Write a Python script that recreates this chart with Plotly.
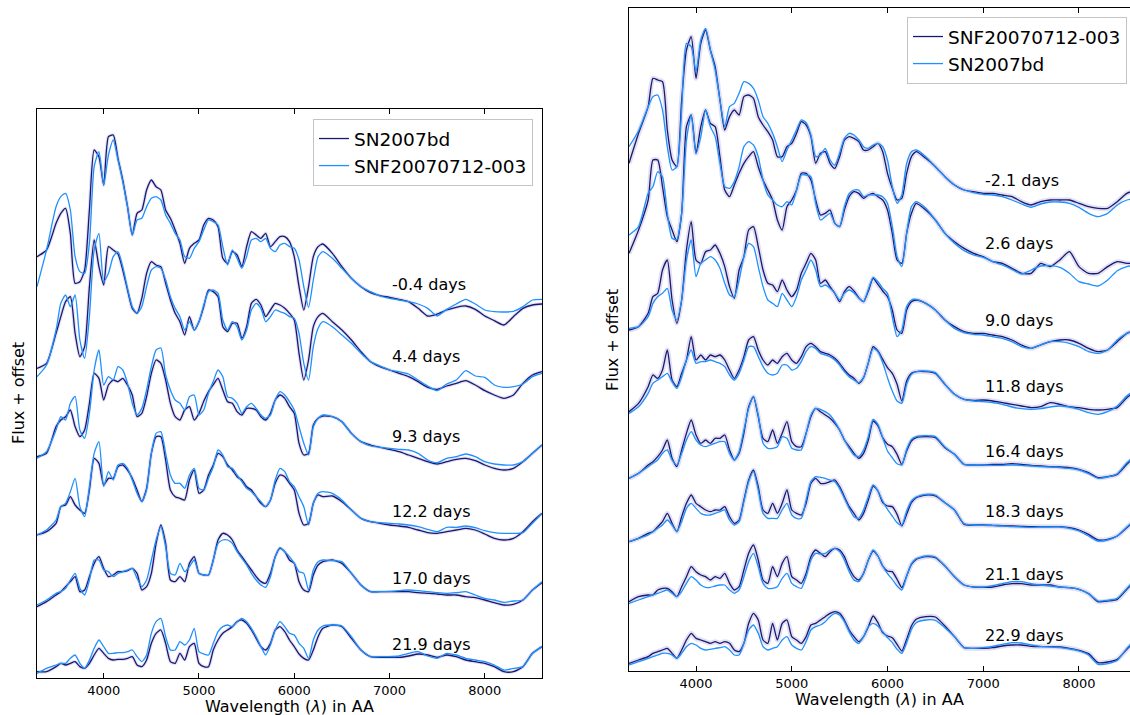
import plotly.graph_objects as go

# Wavelength sampling (Angstrom) shared by every spectrum
WAVE = [3300, 3400,
        3500, 3550, 3600, 3650, 3700, 3750, 3800, 3850, 3900, 3950,
        4000, 4050, 4100, 4150, 4200, 4250, 4300, 4350, 4400, 4450,
        4500, 4550, 4600, 4650, 4700, 4750, 4800, 4850, 4900, 4950,
        5000, 5050, 5100, 5150, 5200, 5250, 5300, 5350, 5400, 5450,
        5500, 5550, 5600, 5650, 5700, 5750, 5800, 5850, 5900, 5950,
        6000, 6050, 6100, 6150, 6200, 6250, 6300,
        6400, 6500, 6600, 6700, 6800, 6900, 7000, 7100, 7200, 7300,
        7400, 7500, 7600, 7700, 7800, 7900, 8000, 8100, 8200, 8300,
        8400, 8500, 8600]

# ---------------- left panel: SN2007bd vs SNF20070712-003 (flux + offset) ----------------
LEFT_DAYS = ["-0.4 days", "4.4 days", "9.3 days", "12.2 days", "17.0 days", "21.9 days"]

L_BD_M04 = [1264, 1284, 1364, 1394, 1409, 1334, 1184, 1189, 1224, 1404, 1584, 1564, 1479, 1624, 1629, 1559, 1494, 1414, 1329, 1394,
            1404, 1464, 1494, 1474, 1464, 1404, 1379, 1344, 1304, 1244, 1289, 1304,
            1314, 1359, 1379, 1374, 1354, 1259, 1244, 1279, 1269, 1234, 1294, 1339, 1329, 1319, 1334, 1294, 1309, 1324, 1324, 1309,
            1264, 1174, 1104, 1174, 1264, 1294, 1302,
            1274, 1234, 1199, 1174, 1156, 1147, 1142, 1136, 1129, 1109, 1086, 1092, 1104, 1112, 1116, 1106, 1086, 1072, 1059, 1084,
            1109, 1119, 1122]
L_SNF_M04 = [1174, 1284, 1414, 1444, 1454, 1404, 1264, 1219, 1214, 1304, 1534, 1579, 1479, 1569, 1614, 1554, 1489, 1414, 1329, 1374,
             1379, 1414, 1439, 1444, 1434, 1389, 1364, 1334, 1314, 1264, 1259, 1289,
             1309, 1344, 1374, 1369, 1359, 1294, 1239, 1284, 1259, 1229, 1264, 1314, 1319, 1309, 1319, 1289, 1279, 1299, 1304, 1294,
             1289, 1254, 1174, 1112, 1194, 1264, 1279,
             1259, 1229, 1199, 1174, 1159, 1146, 1139, 1134, 1129, 1122, 1109, 1086, 1106, 1122, 1136, 1122, 1104, 1099, 1098, 1100,
             1114, 1134, 1136]

L_BD_P44 = [929, 944, 1034, 1084, 1129, 1144, 1034, 964, 994, 1174, 1314, 1234, 1179, 1294, 1284, 1272, 1224, 1164, 1109, 1094,
            1139, 1214, 1249, 1239, 1234, 1184, 1134, 1094, 1069, 1029, 1084, 1044,
            1069, 1114, 1164, 1159, 1144, 1054, 1039, 1064, 1064, 1019, 1054, 1124, 1136, 1119, 1084, 1104, 1124, 1119, 1109, 1094,
            1074, 974, 894, 954, 1054, 1084, 1094,
            1069, 1044, 1014, 979, 949, 934, 924, 914, 904, 889, 872, 866, 876, 884, 892, 879, 862, 849, 839, 849,
            884, 909, 919]
L_SNF_P44 = [904, 939, 1044, 1124, 1149, 1114, 1149, 1014, 959, 1084, 1284, 1334, 1189, 1214, 1264, 1279, 1234, 1169, 1114, 1094,
             1114, 1174, 1224, 1234, 1229, 1194, 1144, 1109, 1084, 1044, 1069, 1044,
             1069, 1119, 1159, 1164, 1154, 1074, 1044, 1069, 1054, 1014, 1044, 1104, 1124, 1109, 1069, 1084, 1104, 1099, 1094, 1084,
             1079, 1034, 944, 894, 994, 1049, 1069,
             1054, 1029, 1004, 974, 949, 936, 924, 919, 912, 894, 876, 862, 882, 894, 922, 906, 902, 879, 872, 874,
             882, 904, 914]

L_BD_P93 = [664, 674, 754, 774, 784, 804, 754, 724, 744, 824, 914, 899, 834, 879, 894, 889, 899, 879, 849, 784,
            794, 844, 914, 954, 944, 894, 824, 784, 774, 804, 814, 774,
            794, 830, 859, 880, 899, 864, 829, 824, 799, 789, 809, 809, 804, 784, 774, 794, 834, 849, 839, 814,
            794, 704, 669, 674, 759, 779, 786,
            784, 769, 734, 709, 699, 692, 686, 679, 669, 659, 649, 642, 649, 656, 659, 652, 639, 629, 624, 629,
            649, 674, 699]
L_SNF_P93 = [659, 679, 744, 784, 774, 824, 845, 744, 719, 794, 924, 984, 879, 904, 894, 934, 924, 884, 824, 789,
             809, 864, 934, 984, 990, 909, 864, 834, 824, 804, 844, 849,
             789, 804, 854, 890, 924, 904, 844, 839, 824, 794, 814, 824, 809, 789, 779, 789, 834, 859, 849, 829,
             804, 754, 704, 669, 754, 779, 789,
             784, 769, 734, 709, 696, 692, 689, 686, 684, 674, 654, 646, 659, 664, 672, 664, 649, 642, 639, 639,
             649, 674, 699]

L_BD_P122 = [429, 439, 464, 514, 519, 544, 519, 504, 494, 564, 659, 644, 579, 599, 599, 634, 639, 624, 599, 564,
             529, 569, 674, 724, 724, 654, 564, 544, 539, 534, 594, 624,
             554, 564, 609, 639, 674, 664, 639, 624, 604, 594, 574, 564, 544, 524, 514, 534, 584, 609, 604, 584,
             564, 494, 459, 464, 524, 549, 544,
             546, 529, 504, 479, 469, 464, 459, 456, 452, 444, 436, 434, 439, 444, 449, 444, 432, 419, 414, 419,
             439, 469, 494]
L_SNF_P122 = [429, 444, 474, 514, 524, 559, 599, 514, 484, 574, 674, 709, 574, 619, 594, 639, 644, 629, 594, 554,
              529, 564, 674, 734, 739, 674, 609, 584, 584, 569, 609, 629,
              569, 564, 599, 634, 684, 669, 634, 629, 609, 589, 569, 559, 544, 529, 514, 534, 594, 629, 619, 589,
              574, 544, 514, 459, 524, 554, 559,
              554, 534, 504, 479, 469, 466, 464, 462, 459, 454, 446, 439, 452, 452, 456, 451, 442, 436, 434, 434,
              436, 464, 494]

L_BD_P170 = [214, 229, 249, 259, 274, 289, 304, 259, 264, 304, 344, 364, 329, 304, 309, 319, 319, 322, 329, 314,
             264, 274, 314, 404, 459, 404, 294, 289, 304, 289, 344, 364,
             314, 309, 309, 354, 414, 434, 429, 414, 384, 364, 344, 324, 304, 289, 284, 314, 364, 389, 379, 354,
             344, 289, 264, 259, 309, 339, 349,
             354, 344, 314, 279, 259, 259, 259, 259, 259, 256, 254, 252, 249, 249, 244, 241, 234, 226, 219, 221,
             234, 264, 286]
L_SNF_P170 = [219, 234, 254, 259, 269, 294, 314, 269, 249, 294, 354, 354, 324, 319, 304, 314, 319, 324, 329, 299,
              274, 294, 354, 414, 454, 394, 314, 309, 344, 319, 334, 354,
              314, 309, 309, 354, 404, 414, 414, 404, 379, 359, 339, 314, 294, 279, 272, 304, 364, 391, 379, 364,
              344, 319, 314, 264, 324, 349, 354,
              352, 349, 314, 279, 259, 259, 260, 262, 264, 262, 259, 256, 254, 256, 259, 249, 239, 234, 227, 231,
              234, 264, 289]

L_BD_P219 = [19, 19, 34, 44, 39, 44, 49, 34, 29, 44, 69, 89, 74, 59, 54, 56, 56, 59, 64, 39,
             34, 54, 104, 134, 144, 104, 49, 44, 74, 54, 94, 104,
             44, 34, 34, 84, 114, 134, 144, 154, 169, 174, 164, 144, 119, 94, 84, 104, 144, 154, 139, 114,
             94, 72, 59, 54, 84, 124, 149,
             159, 154, 119, 84, 64, 62, 62, 62, 66, 72, 69, 62, 69, 64, 54, 49, 44, 34, 19, 19,
             34, 74, 94]
L_SNF_P219 = [14, 29, 39, 44, 44, 59, 69, 44, 29, 54, 89, 114, 94, 74, 74, 76, 76, 79, 84, 64,
              49, 69, 134, 169, 179, 124, 84, 84, 109, 99, 114, 149,
              79, 72, 69, 104, 139, 154, 159, 154, 169, 179, 169, 149, 124, 94, 69, 99, 144, 169, 154, 134,
              129, 104, 89, 59, 114, 144, 156,
              159, 156, 124, 84, 64, 64, 64, 66, 74, 79, 66, 59, 74, 69, 59, 54, 49, 39, 24, 29,
              34, 74, 94]

# ---------------- right panel: SNF20070712-003 vs SN2007bd (flux + offset) ----------------
RIGHT_DAYS = ["-2.1 days", "2.6 days", "9.0 days", "11.8 days", "16.4 days", "18.3 days", "21.1 days", "22.9 days"]

R_SNF_M21 = [1523, 1613, 1693, 1778, 1773, 1768, 1623, 1533, 1513, 1713, 1863, 1903, 1778, 1883, 1923, 1863, 1813, 1713, 1623, 1663,
             1683, 1668, 1723, 1728, 1718, 1663, 1638, 1618, 1593, 1543, 1543, 1573,
             1583, 1613, 1648, 1638, 1603, 1523, 1553, 1558, 1523, 1508, 1543, 1593, 1603, 1598, 1588, 1563, 1563, 1573, 1583, 1558,
             1493, 1448, 1413, 1418, 1493, 1543, 1558,
             1538, 1513, 1483, 1458, 1443, 1438, 1433, 1433, 1428, 1423, 1408, 1398, 1408, 1413, 1413, 1413, 1403, 1393, 1388, 1388,
             1408, 1433, 1443]
R_BD_M21 = [1573, 1621, 1693, 1723, 1728, 1683, 1573, 1503, 1513, 1683, 1883, 1873, 1798, 1893, 1928, 1863, 1803, 1713, 1633, 1693,
            1703, 1733, 1768, 1763, 1748, 1713, 1663, 1643, 1613, 1573, 1528, 1563,
            1593, 1623, 1653, 1645, 1608, 1543, 1548, 1568, 1533, 1518, 1553, 1598, 1613, 1608, 1593, 1573, 1568, 1578, 1583, 1573,
            1533, 1453, 1403, 1428, 1523, 1558, 1563,
            1543, 1513, 1483, 1458, 1443, 1435, 1430, 1428, 1423, 1413, 1401, 1391, 1401, 1407, 1407, 1403, 1391, 1373, 1363, 1373,
            1398, 1413, 1418]

R_SNF_P26 = [1253, 1323, 1413, 1533, 1533, 1453, 1363, 1323, 1288, 1373, 1633, 1668, 1553, 1633, 1683, 1643, 1633, 1543, 1443, 1423,
             1458, 1493, 1523, 1543, 1558, 1513, 1473, 1443, 1413, 1353, 1323, 1393,
             1413, 1443, 1493, 1493, 1473, 1413, 1368, 1373, 1383, 1343, 1333, 1383, 1423, 1438, 1433, 1418, 1428, 1433, 1423, 1413,
             1383, 1313, 1233, 1223, 1313, 1373, 1403,
             1383, 1353, 1313, 1288, 1268, 1253, 1243, 1228, 1223, 1208, 1193, 1193, 1223, 1213, 1233, 1258, 1213, 1193, 1193, 1213,
             1228, 1223, 1223]
R_BD_P26 = [1308, 1333, 1433, 1453, 1498, 1483, 1373, 1298, 1295, 1373, 1593, 1668, 1553, 1603, 1683, 1633, 1603, 1523, 1453, 1448,
            1468, 1513, 1573, 1588, 1578, 1543, 1473, 1428, 1413, 1398, 1393, 1408,
            1398, 1443, 1488, 1488, 1483, 1403, 1353, 1363, 1373, 1343, 1333, 1393, 1433, 1443, 1443, 1423, 1428, 1428, 1428, 1423,
            1403, 1333, 1243, 1213, 1313, 1393, 1408,
            1388, 1353, 1313, 1283, 1261, 1248, 1241, 1228, 1218, 1205, 1191, 1203, 1215, 1216, 1211, 1193, 1168, 1161, 1155, 1173,
            1201, 1213, 1218]

R_SNF_P90 = [1023, 1033, 1073, 1123, 1133, 1203, 1233, 1113, 1043, 1113, 1263, 1348, 1233, 1223, 1258, 1263, 1278, 1253, 1213, 1153,
             1118, 1203, 1243, 1323, 1333, 1273, 1203, 1163, 1158, 1138, 1173, 1143,
             1123, 1143, 1193, 1223, 1253, 1233, 1163, 1173, 1153, 1133, 1108, 1138, 1153, 1140, 1120, 1108, 1140, 1178, 1160, 1140,
             1123, 1083, 1023, 1013, 1083, 1108, 1113,
             1103, 1083, 1053, 1033, 1018, 1013, 1013, 1008, 1003, 993, 978, 968, 978, 988, 993, 993, 983, 968, 958, 963,
             988, 1013, 1023]
R_BD_P90 = [1028, 1033, 1063, 1103, 1123, 1133, 1148, 1083, 1053, 1113, 1233, 1293, 1183, 1223, 1233, 1243, 1233, 1208, 1163, 1128,
            1123, 1173, 1243, 1283, 1273, 1213, 1153, 1113, 1103, 1093, 1133, 1113,
            1093, 1123, 1173, 1203, 1233, 1203, 1153, 1158, 1148, 1133, 1113, 1133, 1143, 1135, 1118, 1108, 1145, 1181, 1168, 1148,
            1133, 1063, 1003, 1023, 1093, 1113, 1115,
            1103, 1083, 1053, 1028, 1015, 1010, 1008, 1003, 998, 988, 973, 968, 978, 988, 988, 983, 973, 958, 953, 963,
            993, 1013, 1023]

R_SNF_P118 = [778, 803, 853, 888, 878, 903, 963, 873, 853, 893, 933, 1003, 933, 948, 933, 948, 943, 948, 933, 903,
              878, 903, 943, 993, 1003, 963, 933, 918, 933, 923, 943, 953,
              933, 923, 943, 973, 983, 973, 958, 953, 948, 938, 923, 903, 888, 878, 863, 880, 925, 973, 960, 935,
              910, 893, 860, 810, 870, 893, 898,
              898, 893, 860, 830, 815, 812, 813, 810, 805, 800, 795, 790, 793, 805, 800, 793, 790, 785, 783, 785,
              790, 820, 840]
R_BD_P118 = [773, 793, 833, 863, 873, 883, 893, 868, 848, 883, 933, 963, 923, 928, 928, 933, 928, 923, 913, 888,
             873, 893, 933, 973, 973, 943, 913, 893, 888, 893, 918, 918,
             903, 908, 928, 958, 973, 968, 953, 948, 943, 933, 918, 898, 883, 873, 865, 880, 925, 968, 958, 925,
             880, 840, 810, 803, 860, 890, 898,
             900, 895, 860, 830, 815, 810, 808, 805, 800, 792, 787, 785, 787, 792, 795, 792, 785, 775, 770, 778,
             795, 825, 845]

R_SNF_P164 = [578, 593, 618, 628, 643, 663, 693, 638, 613, 663, 713, 753, 708, 683, 693, 683, 698, 698, 708, 663,
              633, 653, 713, 793, 823, 763, 698, 688, 723, 683, 713, 748,
              688, 673, 673, 713, 763, 788, 778, 768, 758, 743, 723, 693, 673, 653, 638, 653, 693, 750, 735, 700,
              680, 673, 650, 620, 660, 690, 700,
              703, 700, 670, 650, 620, 618, 618, 620, 620, 622, 620, 617, 615, 613, 612, 610, 605, 595, 580, 583,
              590, 620, 645]
R_BD_P164 = [578, 593, 613, 623, 633, 653, 663, 633, 618, 653, 693, 718, 693, 678, 673, 678, 683, 688, 688, 653,
             633, 658, 723, 788, 823, 768, 683, 668, 668, 673, 703, 698,
             668, 663, 663, 713, 768, 788, 785, 778, 768, 748, 723, 693, 668, 648, 643, 663, 703, 755, 740, 700,
             660, 640, 622, 618, 665, 695, 703,
             706, 703, 672, 650, 620, 618, 618, 617, 617, 618, 617, 615, 613, 612, 610, 608, 603, 592, 578, 582,
             592, 625, 650]

R_SNF_P183 = [388, 398, 413, 418, 433, 448, 473, 443, 418, 463, 503, 528, 503, 493, 483, 478, 483, 483, 493, 463,
              443, 453, 513, 573, 603, 553, 483, 473, 503, 473, 503, 543,
              483, 473, 468, 503, 563, 578, 563, 563, 568, 573, 553, 523, 493, 473, 453, 473, 513, 555, 540, 505,
              495, 493, 470, 435, 470, 505, 520,
              528, 525, 505, 483, 440, 438, 438, 437, 436, 435, 434, 433, 433, 433, 433, 430, 423, 410, 393, 395,
              405, 430, 455]
R_BD_P183 = [388, 398, 408, 418, 428, 438, 453, 438, 418, 448, 488, 503, 488, 473, 468, 468, 473, 478, 483, 453,
             438, 448, 508, 568, 598, 543, 473, 458, 458, 458, 483, 503,
             468, 458, 458, 513, 568, 583, 581, 578, 573, 568, 548, 518, 488, 463, 458, 483, 523, 558, 540, 510,
             485, 465, 445, 438, 480, 510, 522,
             530, 528, 505, 483, 442, 438, 437, 436, 435, 433, 432, 431, 432, 432, 432, 428, 420, 405, 390, 393,
             405, 432, 458]

R_SNF_P211 = [208, 223, 228, 228, 243, 248, 248, 238, 223, 253, 283, 313, 298, 288, 283, 273, 283, 278, 293, 263,
              243, 253, 303, 353, 378, 333, 273, 263, 313, 283, 323, 343,
              283, 273, 263, 293, 343, 363, 353, 343, 358, 368, 363, 343, 308, 283, 273, 293, 333, 360, 345, 315,
              300, 298, 275, 250, 285, 320, 335,
              343, 340, 315, 283, 258, 252, 251, 252, 258, 262, 262, 258, 258, 258, 252, 250, 245, 232, 208, 210,
              215, 245, 275]
R_BD_P211 = [203, 213, 223, 228, 233, 238, 243, 233, 223, 238, 263, 283, 273, 258, 251, 251, 255, 258, 258, 243,
             233, 243, 283, 328, 353, 313, 263, 248, 248, 253, 278, 293,
             263, 253, 248, 283, 333, 353, 351, 353, 363, 368, 358, 333, 298, 273, 268, 293, 333, 363, 345, 315,
             292, 275, 255, 243, 285, 322, 337,
             345, 342, 315, 283, 258, 252, 252, 256, 262, 268, 268, 262, 258, 255, 252, 250, 245, 232, 210, 212,
             218, 248, 278]

R_SNF_P229 = [23, 33, 43, 53, 58, 63, 68, 53, 38, 63, 93, 113, 98, 93, 88, 83, 88, 83, 88, 83,
              63, 58, 83, 143, 173, 153, 93, 83, 143, 93, 143, 153,
              103, 93, 83, 103, 138, 143, 153, 163, 173, 178, 173, 153, 123, 103, 88, 103, 133, 165, 145, 115,
              105, 100, 80, 60, 95, 135, 155,
              163, 162, 135, 103, 70, 68, 68, 70, 75, 78, 78, 74, 73, 73, 72, 68, 62, 52, 25, 27,
              35, 65, 95]
R_BD_P229 = [18, 28, 38, 43, 48, 53, 53, 48, 38, 53, 73, 83, 78, 68, 63, 65, 68, 70, 73, 63,
             48, 48, 83, 123, 138, 113, 73, 63, 68, 73, 93, 103,
             78, 68, 63, 88, 123, 133, 138, 148, 163, 173, 168, 148, 118, 93, 83, 103, 133, 143, 135, 118,
             100, 85, 65, 53, 85, 125, 145,
             153, 152, 130, 103, 70, 68, 70, 74, 80, 85, 84, 78, 74, 72, 70, 66, 60, 48, 20, 22,
             32, 68, 98]

LEFT_DARK = [L_BD_M04, L_BD_P44, L_BD_P93, L_BD_P122, L_BD_P170, L_BD_P219]
LEFT_LIGHT = [L_SNF_M04, L_SNF_P44, L_SNF_P93, L_SNF_P122, L_SNF_P170, L_SNF_P219]
RIGHT_DARK = [R_SNF_M21, R_SNF_P26, R_SNF_P90, R_SNF_P118, R_SNF_P164, R_SNF_P183, R_SNF_P211, R_SNF_P229]
RIGHT_LIGHT = [R_BD_M21, R_BD_P26, R_BD_P90, R_BD_P118, R_BD_P164, R_BD_P183, R_BD_P211, R_BD_P229]

for spec in LEFT_DARK + LEFT_LIGHT + RIGHT_DARK + RIGHT_LIGHT:
    assert len(spec) == len(WAVE), len(spec)

DARK = "#191970"
LIGHT = "#1E90FF"
BAND = "rgba(120, 110, 195, 0.22)"
FONT = "DejaVu Sans"
W, H = 1130, 715

fig = go.Figure()


def add_panel(xa, ya, legend, dark_sets, light_sets, dark_name, light_name, days, band_w):
    i7000 = WAVE.index(7000)
    for i, (d, l) in enumerate(zip(dark_sets, light_sets)):
        # faint uncertainty haze around the darker spectrum
        fig.add_trace(go.Scatter(x=WAVE, y=d, xaxis=xa, yaxis=ya, mode="lines",
                                 line=dict(color=BAND, width=band_w, shape="spline", smoothing=0.6),
                                 showlegend=False, hoverinfo="skip"))
        fig.add_trace(go.Scatter(x=WAVE, y=d, xaxis=xa, yaxis=ya, mode="lines", name=dark_name,
                                 line=dict(color=DARK, width=1.3, shape="spline", smoothing=0.6),
                                 legend=legend, showlegend=(i == 0)))
        fig.add_trace(go.Scatter(x=WAVE, y=l, xaxis=xa, yaxis=ya, mode="lines", name=light_name,
                                 line=dict(color=LIGHT, width=1.3, shape="spline", smoothing=0.6),
                                 legend=legend, showlegend=(i == 0)))
        # epoch label sits just above the spectrum at 7000 A
        fig.add_annotation(x=7000, y=d[i7000] + 40, xref=xa, yref=ya, text=days[i],
                           xanchor="left", yanchor="middle", showarrow=False,
                           font=dict(family=FONT, size=16, color="black"))


add_panel("x", "y", "legend", LEFT_DARK, LEFT_LIGHT, "SN2007bd", "SNF20070712-003", LEFT_DAYS, 3.5)
add_panel("x2", "y2", "legend2", RIGHT_DARK, RIGHT_LIGHT, "SNF20070712-003", "SN2007bd", RIGHT_DAYS, 5)

xcommon = dict(tickvals=[4000, 5000, 6000, 7000, 8000], ticks="inside", ticklen=5, tickwidth=1,
               tickcolor="black", showline=True, linecolor="black", linewidth=1.3, mirror="ticks",
               showgrid=False, zeroline=False, tickfont=dict(family=FONT, size=13, color="black"))
ycommon = dict(showticklabels=False, ticks="", showline=True, linecolor="black", linewidth=1.3,
               showgrid=False, zeroline=False)

legend_common = dict(xanchor="right", yanchor="top", bgcolor="white", bordercolor="#c4c4c4",
                     borderwidth=1, font=dict(family=FONT, size=18.5, color="black"),
                     tracegroupgap=0, itemwidth=30)

fig.update_layout(
    width=W, height=H, margin=dict(l=0, r=0, t=0, b=0),
    paper_bgcolor="white", plot_bgcolor="white",
    font=dict(family=FONT, color="black"),
    showlegend=True,
    xaxis=dict(domain=[37 / W, 542 / W], range=[3300, 8600], anchor="y", **xcommon),
    yaxis=dict(domain=[1 - 678 / H, 1 - 109 / H], range=[0, 1707], anchor="x", mirror=True, **ycommon),
    xaxis2=dict(domain=[629 / W, 1.0], range=[3300, 8533], anchor="y2", **xcommon),
    yaxis2=dict(domain=[1 - 671 / H, 1 - 8 / H], range=[0, 1989], anchor="x2", mirror=False, **ycommon),
    legend=dict(x=533 / W, y=1 - 119 / H, **legend_common),
    legend2=dict(x=1127 / W, y=1 - 17 / H, **legend_common),
)

# axis titles
for x, y in [(289.5, 706), (879.5, 699)]:
    fig.add_annotation(x=x / W, y=1 - y / H, xref="paper", yref="paper", showarrow=False,
                       text="Wavelength (<i>λ</i>) in AA", xanchor="center", yanchor="middle",
                       font=dict(family=FONT, size=16, color="black"))
for x, y in [(18, 393), (612, 340)]:
    fig.add_annotation(x=x / W, y=1 - y / H, xref="paper", yref="paper", showarrow=False,
                       text="Flux + offset", textangle=-90, xanchor="center", yanchor="middle",
                       font=dict(family=FONT, size=16, color="black"))

fig.write_html("out.html")
